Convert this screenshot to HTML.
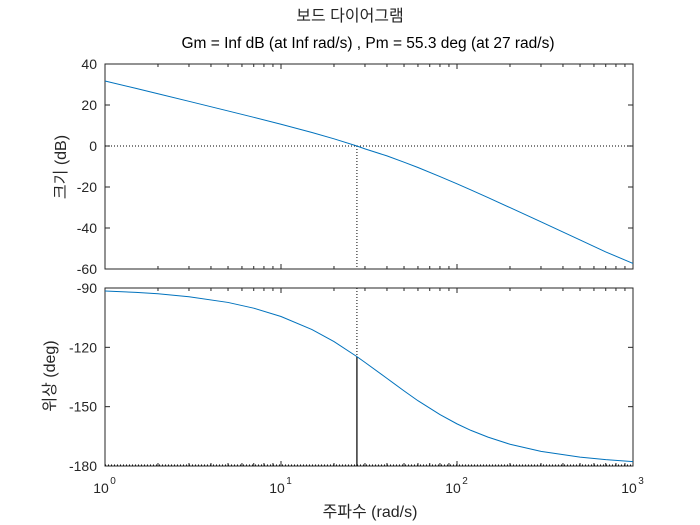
<!DOCTYPE html>
<html><head><meta charset="utf-8"><style>
body{margin:0;background:#fff}
svg{display:block;font-family:"Liberation Sans","Noto Sans CJK KR",sans-serif}
</style></head><body>
<svg id="c" width="700" height="525" viewBox="0 0 700 525">
<text x="350" y="21" text-anchor="middle" font-size="16" fill="#262626">보드 다이어그램</text>
<text x="368" y="48" text-anchor="middle" font-size="15.5" fill="#000">Gm = Inf dB (at Inf rad/s) ,  Pm = 55.3 deg (at 27 rad/s)</text>
<text x="370" y="517" text-anchor="middle" font-size="16" fill="#262626">주파수  (rad/s)</text>
<text transform="translate(66,167) rotate(-90)" text-anchor="middle" font-size="16" fill="#262626">크기 (dB)</text>
<text transform="translate(55,376) rotate(-90)" text-anchor="middle" font-size="16" fill="#262626">위상 (deg)</text>
</svg>
<script>
const freqs=[1,1.5,2,3,5,7,10,15,20,27,30,40,50,60,80,100,120,150,200,300,500,700,1000];
const magDb=[31.7,28.1,25.5,21.8,17.1,14.0,10.6,6.6,3.5,0.0,-1.4,-4.83,-7.9,-10.50,-14.9,-18.46,-21.45,-25.17,-30.05,-37.0,-45.84,-51.66,-57.3];
const phaseDeg=[-91.5,-92.2,-92.9,-94.4,-97.3,-100.2,-104.4,-111.0,-117.1,-124.7,-127.6,-135.7,-142.0,-147.0,-154.0,-158.7,-162.0,-165.4,-169.0,-172.6,-175.5,-176.8,-177.8];
const magTicks=[40,20,0,-20,-40,-60];
const phaseTicks=[-90,-120,-150,-180];
const xDecades=[0,1,2,3];
const pmFreq=27, pmPhase=-124.7;

const svg=document.getElementById('c');
const NS='http://www.w3.org/2000/svg';
const X0=105,X1=633;
const x=w=>X0+(Math.log10(w)-0)/3*(X1-X0);
const T={top:64,bot:269,min:-60,max:40};
const B={top:288,bot:466,min:-180,max:-90};
const yM=v=>T.bot-(v-T.min)/(T.max-T.min)*(T.bot-T.top);
const yP=v=>B.bot-(v-B.min)/(B.max-B.min)*(B.bot-B.top);
function mk(t,a){const e=document.createElementNS(NS,t);for(const k in a)e.setAttribute(k,a[k]);svg.appendChild(e);return e;}

function axes(P,ticks,yf,name){
  const box=mk('rect',{x:X0,y:P.top,width:X1-X0,height:P.bot-P.top,fill:'none',stroke:'#262626','stroke-width':1});
  
  
  ticks.forEach(v=>{
    const y=yf(v);
    mk('line',{x1:X0,x2:X0+5,y1:y,y2:y,stroke:'#262626'});
    mk('line',{x1:X1,x2:X1-5,y1:y,y2:y,stroke:'#262626'});
    const t=mk('text',{x:X0-8,y:y+5,'text-anchor':'end','font-size':14,fill:'#262626'});
    t.textContent=v;
    
    
  });
  for(let d=0;d<3;d++)for(let m=1;m<=10;m++){
    const xx=x(Math.pow(10,d)*m);const L=m===1||m===10?5:3;
    mk('line',{x1:xx,x2:xx,y1:P.bot,y2:P.bot-L,stroke:'#262626'});
    mk('line',{x1:xx,x2:xx,y1:P.top,y2:P.top+L,stroke:'#262626'});
  }
}
axes(T,magTicks,yM,'magnitude');
axes(B,phaseTicks,yP,'phase');
xDecades.forEach(d=>{
  const t=mk('text',{x:x(Math.pow(10,d))-4,y:493,'text-anchor':'middle','font-size':14,fill:'#262626'});
  t.textContent='10';
  
  
  const s=mk('text',{x:x(Math.pow(10,d))+8,y:484,'text-anchor':'middle','font-size':10,fill:'#262626'});
  s.textContent=d;
});
const z=mk('line',{x1:X0,x2:X1,y1:yM(0),y2:yM(0),stroke:'#000','stroke-dasharray':'1,2'});


const p180=mk('line',{x1:X0,x2:X1,y1:yP(-180)-1,y2:yP(-180)-1,stroke:'#000','stroke-dasharray':'1,2'});


const v1=mk('line',{x1:x(pmFreq),x2:x(pmFreq),y1:yM(0),y2:T.bot,stroke:'#000','stroke-dasharray':'1,2'});


const v2=mk('line',{x1:x(pmFreq),x2:x(pmFreq),y1:B.top,y2:yP(pmPhase),stroke:'#000','stroke-dasharray':'1,2'});


const v3=mk('line',{x1:x(pmFreq),x2:x(pmFreq),y1:yP(pmPhase),y2:B.bot,stroke:'#000','stroke-width':1.2});


const m=mk('polyline',{points:freqs.map((w,i)=>x(w)+','+yM(magDb[i])).join(' '),fill:'none',stroke:'#0072bd','stroke-width':1});


const p=mk('polyline',{points:freqs.map((w,i)=>x(w)+','+yP(phaseDeg[i])).join(' '),fill:'none',stroke:'#0072bd','stroke-width':1});


</script>
</body></html>
